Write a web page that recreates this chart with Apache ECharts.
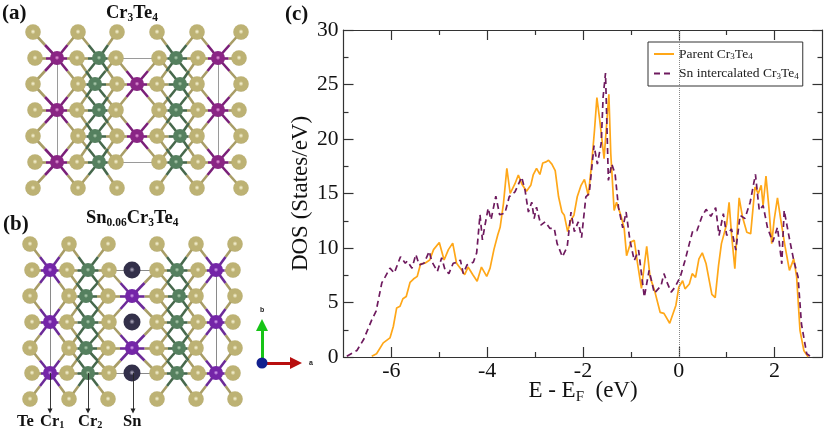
<!DOCTYPE html>
<html>
<head>
<meta charset="utf-8">
<title>Cr3Te4 DOS</title>
<script src="https://cdn.jsdelivr.net/npm/echarts@6/dist/echarts.min.js"></script>
<style>
  html, body { margin: 0; padding: 0; background: #fff; }
  #main { width: 831px; height: 436px; }
</style>
</head>
<body>
<div id="main"></div>
<script>
// DOS curves
var parentE = [-6.41,-6.31,-6.17,-6.03,-5.96,-5.89,-5.82,-5.76,-5.69,-5.61,-5.54,-5.46,-5.39,-5.3,-5.2,-5.12,-5.0,-4.9,-4.81,-4.72,-4.64,-4.53,-4.47,-4.4,-4.3,-4.21,-4.12,-4.01,-3.94,-3.86,-3.78,-3.73,-3.66,-3.59,-3.52,-3.42,-3.35,-3.28,-3.18,-3.09,-3.04,-2.97,-2.9,-2.84,-2.77,-2.72,-2.65,-2.58,-2.51,-2.44,-2.39,-2.32,-2.26,-2.19,-2.12,-2.04,-1.97,-1.89,-1.82,-1.76,-1.71,-1.65,-1.56,-1.46,-1.42,-1.35,-1.3,-1.21,-1.14,-1.09,-1.0,-0.93,-0.86,-0.78,-0.67,-0.6,-0.5,-0.39,-0.31,-0.19,-0.06,0,0.08,0.13,0.22,0.28,0.35,0.42,0.49,0.57,0.69,0.76,0.83,0.89,0.93,1.0,1.05,1.1,1.17,1.26,1.33,1.42,1.5,1.59,1.66,1.72,1.76,1.82,1.88,1.94,1.99,2.06,2.13,2.22,2.31,2.4,2.46,2.53,2.61,2.7];
var parentDos = [0.06,0.3,1.3,1.75,2.8,4.5,4.65,5.35,5.55,6.85,7.15,7.4,8.55,8.6,8.9,9.85,10.5,8.9,9.85,10.45,8.6,7.95,7.55,8.25,7.55,6.95,8.25,7.4,8.15,9.85,11.2,11.9,14.1,17.3,15,15.9,16.7,15.9,15.2,15.75,16.7,17.3,16.75,17.8,17.9,18.05,17.7,17.1,14.7,13.3,13,11.5,12.5,13,14.7,15.75,16.3,14.8,17.7,20.8,23.8,21.7,18.2,24.1,18.65,13.45,14.2,13,11.8,9.3,10.55,10.7,8.55,6.3,10.15,7.35,6,4.1,4,3.1,4.75,6.4,7,6.25,6.7,7.65,7.3,9,9.55,8.55,5.75,5.45,8.4,10.4,10.25,12.2,14.2,11.3,8.1,14.6,12.85,11.45,11.3,15.6,15,15.75,13.9,16.6,13.75,10.4,12.55,14.6,12.55,10.1,7.95,9,7.35,2.45,0.6,0];
var snE = [-6.93,-6.72,-6.58,-6.41,-6.32,-6.2,-6.13,-6.03,-5.94,-5.81,-5.71,-5.67,-5.57,-5.49,-5.42,-5.32,-5.21,-5.16,-5.04,-4.95,-4.88,-4.8,-4.71,-4.6,-4.56,-4.5,-4.42,-4.29,-4.22,-4.15,-4.1,-4.05,-3.98,-3.92,-3.82,-3.74,-3.63,-3.54,-3.42,-3.28,-3.21,-3.14,-3.07,-3.02,-2.97,-2.88,-2.79,-2.69,-2.6,-2.54,-2.43,-2.33,-2.25,-2.18,-2.1,-2.03,-1.94,-1.87,-1.77,-1.7,-1.62,-1.58,-1.53,-1.47,-1.4,-1.33,-1.26,-1.17,-1.1,-1.02,-0.93,-0.84,-0.72,-0.62,-0.51,-0.37,-0.31,-0.25,-0.16,-0.08,0.03,0.13,0.22,0.29,0.38,0.48,0.57,0.67,0.77,0.84,0.93,1.0,1.1,1.19,1.28,1.38,1.49,1.6,1.68,1.76,1.85,1.96,2.06,2.15,2.2,2.31,2.4,2.49,2.56,2.67,2.77];
var snDos = [0.06,0.6,1.6,3.4,4.2,6.8,7.35,8.15,7.7,9.2,8.6,8.8,8.15,9.4,8.45,8.6,9.7,8.8,7.85,9.1,8,7.65,8.6,8.7,8.9,7.65,8.45,8.7,9.55,13.05,10.75,12,13.65,12.6,14.75,13.05,13.2,14.7,15.15,16.5,15.3,13.3,14.2,12.7,13.75,12.1,12.4,11.8,11.8,10.4,9.2,10.1,13.3,11.5,12.4,10.95,14.7,15,19.4,17.7,19.6,23.85,26.05,16.2,17.7,16.8,13.75,11.85,13.3,10.7,8.85,9.8,5.5,7.95,5.85,6.55,7.65,6.9,5.95,6.4,7.35,8.85,10.4,11.55,11.6,12.85,13.55,12.9,13.7,11.15,13.15,11.15,11.75,9.8,13,12.7,14.2,16.75,13.45,13.9,11.9,10.55,11.9,8.55,13.45,10.85,8.85,7.35,3.05,0.3,0];

var xMajor = [-6,-4,-2,0,2];
var xMinor = [-5,-3,-1,1];
var yTicks = [0,5,10,15,20,25,30];

// atom sites of the two structure panels, in page-sized panel units
var aRows = [32,58,84,110,136,162,188];
var aTeOuter = [33,78,117,157,197,241];
var aTeEven = [35,77,116,159,198,239];
var aCr1Even = [57,218];
var aCr2Even = [99,176];
var aCr1Odd = [137];
var aCr2Odd = [95,180];

var bRows = [244,270,296,322,348,373,399];
var bTeOuter = [30,69,108,157,196,235];
var bTeEven = [32,67,109,157,198,233];
var bCr1Even = [50,216];
var bCr2Even = [88,177];
var bCr1Odd = [132];
var bCr2Odd = [86,179];
var bSnX = [132];
var bArrowX = [50,88,133];

var serif = '"Liberation Serif", "Times New Roman", serif';

function zip(xs, ys) {
  var out = [];
  for (var i = 0; i < xs.length; i++) out.push([xs[i], ys[i]]);
  return out;
}

function sphere(light, mid, dark) {
  return {
    type: 'radial', x: 0.5, y: 0.48, r: 0.58,
    colorStops: [{ offset: 0, color: light }, { offset: 0.28, color: mid }, { offset: 0.8, color: mid }, { offset: 1, color: dark }]
  };
}

// row 0,2,4,6 hold the outer Te, row 1,3,5 the inner one (top row is index 0)
function buildPanel(rows, teOuter, teEven, cr1Even, cr2Even, cr1Odd, cr2Odd) {
  var te = [], cr1 = [], cr2 = [], i;
  for (i = 0; i < rows.length; i++) {
    var isEven = i % 2 == 1; // rows holding cell corner atoms
    var isOuter = i == 0 || i == rows.length - 1;
    (isEven ? teEven : teOuter).forEach(function (x) { te.push([x, rows[i], i]); });
    if (isOuter) continue;
    (isEven ? cr1Even : cr1Odd).forEach(function (x) { cr1.push([x, rows[i], i]); });
    (isEven ? cr2Even : cr2Odd).forEach(function (x) { cr2.push([x, rows[i], i]); });
  }
  return { te: te, cr1: cr1, cr2: cr2 };
}

// every Cr bonds to the nearest Te left and right of it, in its own row and the two next to it
function buildBonds(crList, teList) {
  var crHalf = [], teHalf = [];
  crList.forEach(function (cr) {
    [-1, 0, 1].forEach(function (dr) {
      var row = teList.filter(function (t) { return t[2] == cr[2] + dr; });
      var left = null, right = null;
      row.forEach(function (t) {
        if (t[0] < cr[0] && (!left || t[0] > left[0])) left = t;
        if (t[0] > cr[0] && (!right || t[0] < right[0])) right = t;
      });
      [left, right].forEach(function (t) {
        if (!t) return;
        var mid = [(cr[0] + t[0]) / 2, (cr[1] + t[1]) / 2];
        crHalf.push({ coords: [[cr[0], cr[1]], mid] });
        teHalf.push({ coords: [mid, [t[0], t[1]]] });
      });
    });
  });
  return { cr: crHalf, te: teHalf };
}

function lineSeries(data, color, width, z, extra) {
  var s = {
    type: 'lines', coordinateSystem: 'cartesian2d', xAxisIndex: 4, yAxisIndex: 2,
    silent: true, z: z, data: data,
    lineStyle: { color: color, width: width, opacity: 1 }
  };
  for (var k in extra) s[k] = extra[k];
  return s;
}

function atomSeries(data, size, color, z) {
  return {
    type: 'scatter', xAxisIndex: 4, yAxisIndex: 2, symbol: 'circle', symbolSize: size,
    silent: true, z: z, data: data, itemStyle: { color: color, opacity: 1 }
  };
}

function panelSeries(p, cr1Bond, cr2Bond, cr1Color, cr2Color) {
  var b1 = buildBonds(p.cr1, p.te);
  var b2 = buildBonds(p.cr2, p.te);
  var teBond = '#a89d66';
  return [
    lineSeries(b1.te.concat(b2.te), teBond, 2.6, 3),
    lineSeries(b2.cr, cr2Bond, 2.6, 3),
    lineSeries(b1.cr, cr1Bond, 2.6, 3),
    atomSeries(p.te, 15.5, sphere('#fbf8dc', '#bdb274', '#9c9258'), 5),
    atomSeries(p.cr2, 14, cr2Color, 5),
    atomSeries(p.cr1, 14, cr1Color, 5)
  ];
}

var panelA = buildPanel(aRows, aTeOuter, aTeEven, aCr1Even, aCr2Even, aCr1Odd, aCr2Odd);
var panelB = buildPanel(bRows, bTeOuter, bTeEven, bCr1Even, bCr2Even, bCr1Odd, bCr2Odd);

var cellA = [
  { coords: [[aCr1Even[0], aRows[1]], [aCr1Even[1], aRows[1]]] },
  { coords: [[aCr1Even[0], aRows[5]], [aCr1Even[1], aRows[5]]] },
  { coords: [[aCr1Even[0], aRows[1]], [aCr1Even[0], aRows[5]]] },
  { coords: [[aCr1Even[1], aRows[1]], [aCr1Even[1], aRows[5]]] }
];
var cellB = [
  { coords: [[bCr1Even[0], bRows[1]], [bCr1Even[1], bRows[1]]] },
  { coords: [[bCr1Even[0], bRows[5]], [bCr1Even[1], bRows[5]]] },
  { coords: [[bCr1Even[0], bRows[1]], [bCr1Even[0], bRows[5]]] },
  { coords: [[bCr1Even[1], bRows[1]], [bCr1Even[1], bRows[5]]] }
];
var arrowsB = bArrowX.map(function (x) { return { coords: [[x, bRows[5]], [x, 411]] }; });

var seriesList = [
  {
    name: 'Parent Cr3Te4', type: 'line', data: zip(parentE, parentDos), symbol: 'none',
    lineStyle: { color: '#ffa718', width: 1.7 }, itemStyle: { color: '#ffa718' }, z: 3,
    markLine: {
      silent: true, symbol: 'none', label: { show: false },
      lineStyle: { color: '#888', type: 'dotted', width: 1 },
      data: [{ xAxis: 0 }]
    }
  },
  {
    name: 'Sn intercalated Cr3Te4', type: 'line', data: zip(snE, snDos), symbol: 'none',
    lineStyle: { color: '#6e1a5e', width: 1.7, type: [6, 4] }, itemStyle: { color: '#6e1a5e' }, z: 4
  },
  lineSeries(cellA, '#9a9a9a', 1, 1),
  lineSeries(cellB, '#8a8a8a', 1, 1),
  lineSeries(arrowsB, '#222', 0.9, 6, { symbol: ['none', 'triangle'], symbolSize: 5 })
];
seriesList = seriesList.concat(panelSeries(panelA, '#7a1f78', '#46684c',
  sphere('#f0a8e4', '#8a2585', '#70206e'), sphere('#bcd8bc', '#55805f', '#436a4e')));
seriesList = seriesList.concat(panelSeries(panelB, '#6c2a98', '#46684c',
  sphere('#dfb0f5', '#7425a8', '#611f90'), sphere('#bcd8bc', '#55805f', '#436a4e')));
seriesList.push(atomSeries(zip(bSnX.concat(bSnX, bSnX), [bRows[1], bRows[3], bRows[5]]), 17,
  sphere('#b8b4c8', '#33304a', '#2a2840'), 5));
// a / b axis triad
seriesList.push(lineSeries([{ coords: [[262, 363], [296, 363]] }], '#b80f0f', 3, 6,
  { symbol: ['none', 'triangle'], symbolSize: 12 }));
seriesList.push(lineSeries([{ coords: [[262, 363], [262, 325]] }], '#17c417', 3, 6,
  { symbol: ['none', 'triangle'], symbolSize: 12 }));
seriesList.push(atomSeries([[262, 363]], 11, '#12208f', 7));

function caption(rich, left, top, size) {
  return {
    text: rich, left: left, top: top, padding: 0,
    textStyle: {
      fontFamily: serif, fontWeight: 'bold', fontSize: size, color: '#111',
      rich: {
        n: { fontFamily: serif, fontWeight: 'bold', fontSize: size, color: '#111' },
        s: { fontFamily: serif, fontWeight: 'bold', fontSize: size * 0.62, color: '#111', verticalAlign: 'bottom', padding: [size * 0.45, 0, 0, 0] }
      }
    }
  };
}
function tiny(txt, left, top) {
  return { text: txt, left: left, top: top, padding: 0, textStyle: { fontFamily: '"Liberation Sans", sans-serif', fontWeight: 'bold', fontSize: 7, color: '#222' } };
}

var tickLine = { color: '#333', width: 1.2 };
var grid = { left: 343.5, top: 30, width: 479, height: 327 };

function xBox(position, values, len) {
  return {
    type: 'value', gridIndex: 0, position: position, min: -7, max: 3, interval: 1,
    axisLine: { onZero: false, lineStyle: tickLine },
    axisTick: { show: true, inside: true, length: len, customValues: values, lineStyle: tickLine },
    axisLabel: { show: false }, splitLine: { show: false }
  };
}
function yBox(position) {
  return {
    type: 'value', gridIndex: 0, position: position, min: 0, max: 30, interval: 5,
    axisLine: { onZero: false, lineStyle: tickLine },
    axisTick: { show: true, inside: true, length: 10, lineStyle: tickLine },
    minorTick: { show: true, splitNumber: 2, length: 5, lineStyle: tickLine },
    axisLabel: { show: false }, splitLine: { show: false }
  };
}

var xBottom = xBox('bottom', xMajor, 10);
xBottom.axisLabel = { show: true, customValues: xMajor, fontFamily: serif, fontSize: 22, color: '#111', margin: 3 };
xBottom.name = '{n|E - E}{s|F}{n|  (eV)}';
xBottom.nameLocation = 'middle';
xBottom.nameMoveOverlap = false;
xBottom.nameGap = 19;
xBottom.nameTextStyle = {
  fontFamily: serif, fontSize: 23, color: '#111',
  rich: {
    n: { fontFamily: serif, fontSize: 23, color: '#111' },
    s: { fontFamily: serif, fontSize: 15, color: '#111', verticalAlign: 'bottom', padding: [14, 0, 0, 0] }
  }
};
var yLeft = yBox('left');
yLeft.axisLabel = { show: true, customValues: yTicks, fontFamily: serif, fontSize: 21.5, color: '#111', margin: 5, padding: [3, 0, 0, 0] };
yLeft.name = 'DOS (States/eV)';
yLeft.nameLocation = 'middle';
yLeft.nameMoveOverlap = false;
yLeft.nameGap = 31;
yLeft.nameTextStyle = { fontFamily: serif, fontSize: 23, color: '#111' };

var option = {
  animation: false,
  backgroundColor: '#fff',
  title: [
    caption('(a)', 2, 3, 21),
    caption('{n|Cr}{s|3}{n|Te}{s|4}', 106, 4, 18.5),
    caption('(b)', 3, 214, 21),
    caption('{n|Sn}{s|0.06}{n|Cr}{s|3}{n|Te}{s|4}', 86, 209, 18.5),
    caption('(c)', 285, 4, 21),
    caption('{n|Te}', 17, 413, 16.5),
    caption('{n|Cr}{s|1}', 40, 413, 16.5),
    caption('{n|Cr}{s|2}', 78, 413, 16.5),
    caption('{n|Sn}', 123, 413, 16.5),
    tiny('b', 260, 307),
    tiny('a', 309, 360),
    tiny('c', 260, 359)
  ],
  legend: {
    left: 648, top: 42, orient: 'vertical', padding: [5, 4, 5, 5], itemGap: 5,
    itemWidth: 20, itemHeight: 13, itemStyle: { opacity: 0 },
    backgroundColor: '#fff', borderColor: '#333', borderWidth: 1, borderRadius: 0,
    data: [{ name: 'Parent Cr3Te4' }, { name: 'Sn intercalated Cr3Te4' }],
    formatter: function (name) {
      return name.replace('Cr3Te4', '{n|Cr}{s|3}{n|Te}{s|4}').replace(/^(Parent |Sn intercalated )/, '{n|$1}');
    },
    textStyle: {
      fontFamily: serif, fontSize: 13.5, color: '#222',
      rich: {
        n: { fontFamily: serif, fontSize: 13.5, color: '#222' },
        s: { fontFamily: serif, fontSize: 9, color: '#222', verticalAlign: 'bottom', padding: [6, 0, 0, 0] }
      }
    }
  },
  grid: [
    grid,
    { left: 0, top: 0, width: 320, height: 436 }
  ],
  xAxis: [
    xBottom,
    xBox('top', xMajor, 10),
    xBox('bottom', xMinor, 5),
    xBox('top', xMinor, 5),
    { type: 'value', gridIndex: 1, show: false, min: 0, max: 320 }
  ],
  yAxis: [
    yLeft,
    yBox('right'),
    { type: 'value', gridIndex: 1, show: false, min: 0, max: 436, inverse: true }
  ],
  series: seriesList
};

var myChart = echarts.init(document.getElementById('main'));
myChart.setOption(option);
</script>
</body>
</html>
